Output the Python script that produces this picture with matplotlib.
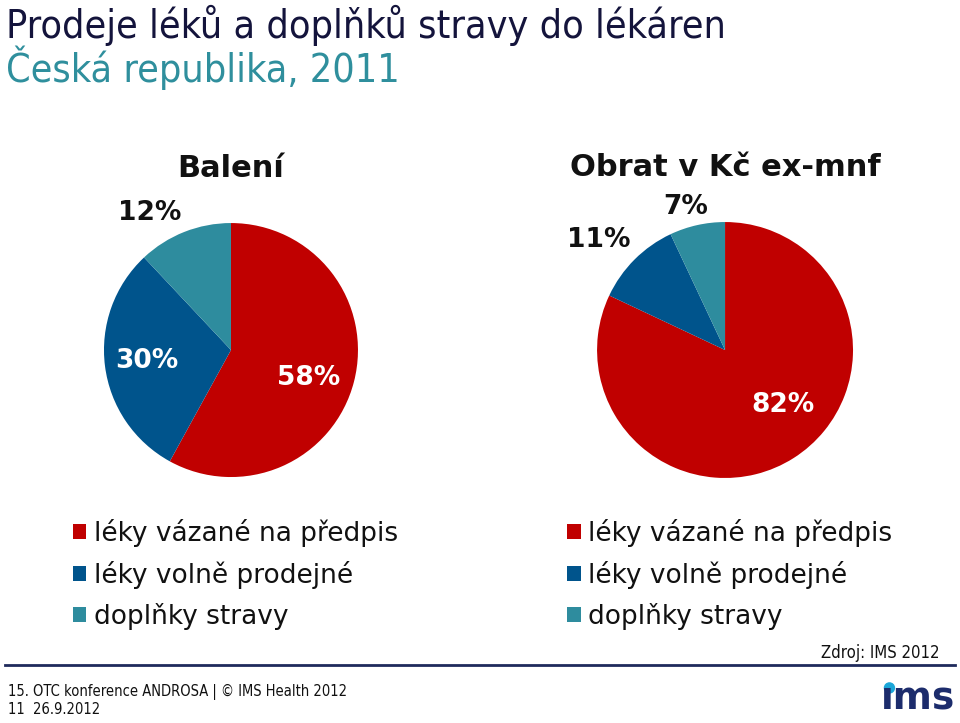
import matplotlib.pyplot as plt
from matplotlib.patches import Ellipse

# ---------------------------------------------------------
# data
# ---------------------------------------------------------
categories = ["léky vázané na předpis", "léky volně prodejné", "doplňky stravy"]
baleni = [58, 30, 12]
obrat = [82, 11, 7]
colors = ["#C00000", "#00548C", "#2E8C9E"]

navy = "#14143C"
teal = "#2F8F9D"

fig = plt.figure(figsize=(9.6, 7.23), dpi=100)

# ---------------------------------------------------------
# titles
# ---------------------------------------------------------
fig.text(0.006, 0.965, "Prodeje léků a doplňků stravy do lékáren",
         fontsize=28.3, color=navy, va="center", ha="left",
         family="DejaVu Sans", fontstretch="condensed")
fig.text(0.006, 0.906, "Česká republika, 2011",
         fontsize=28.3, color=teal, va="center", ha="left",
         family="DejaVu Sans", fontstretch="condensed")


def draw_pie(rect, values, title, label_pos, label_col):
    ax = fig.add_axes(rect)
    wedges, _ = ax.pie(values, colors=colors, startangle=90,
                       counterclock=False, radius=1,
                       wedgeprops=dict(linewidth=0))
    ax.set_xlim(-1, 1)
    ax.set_ylim(-1, 1)
    ax.set_aspect("equal")
    ax.axis("off")
    for v, (x, y), c in zip(values, label_pos, label_col):
        ax.text(x, y, f"{v}%", fontsize=19, fontweight="bold",
                color=c, ha="center", va="center", clip_on=False)
    ax.text(0, 1.43, title, fontsize=22, fontweight="bold",
            color="#111111", ha="center", va="center", clip_on=False)
    return wedges


w1 = draw_pie([0.1083, 0.3402, 0.2646, 0.3513], baleni, "Balení",
              [(0.61, -0.22), (-0.66, -0.09), (-0.64, 1.08)],
              ["white", "white", "#111111"])
w2 = draw_pie([0.6219, 0.3389, 0.2667, 0.354], obrat, "Obrat v Kč ex-mnf",
              [(0.45, -0.43), (-0.99, 0.86), (-0.31, 1.12)],
              ["white", "#111111", "#111111"])

# ---------------------------------------------------------
# legends
# ---------------------------------------------------------
for x0, wedges in [(0.076, w1), (0.591, w2)]:
    fig.legend(wedges, categories, loc="upper left",
               bbox_to_anchor=(x0, 0.282), frameon=False,
               fontsize=19, handlelength=0.5, handleheight=0.5,
               handletextpad=0.3, labelspacing=0.52, borderaxespad=0,
               borderpad=0, labelcolor="#111111")

# ---------------------------------------------------------
# footer
# ---------------------------------------------------------
fig.text(0.979, 0.097, "Zdroj: IMS 2012", fontsize=12, ha="right",
         va="center", color="#111111",
         family="DejaVu Sans", fontstretch="condensed")
fig.add_artist(plt.Line2D([0.005, 0.995], [0.080, 0.080],
                          color="#1F2A5C", lw=2))
fig.text(0.008, 0.043, "15. OTC konference ANDROSA | © IMS Health 2012",
         fontsize=10.5, ha="left", va="center", color="#111111",
         family="DejaVu Sans", fontstretch="condensed")
fig.text(0.008, 0.018, "11  26.9.2012", fontsize=10.5, ha="left",
         va="center", color="#111111",
         family="DejaVu Sans", fontstretch="condensed")

# ims logo
fig.text(0.956, 0.007, "ıms", fontsize=27, fontweight="bold",
         color="#1C2C6C", ha="center", va="bottom")
fig.add_artist(Ellipse((0.9265, 0.0485), 10 / 960, 10 / 723,
                       transform=fig.transFigure, color="#1BA6D8"))

fig.savefig("out.png", dpi=100)
